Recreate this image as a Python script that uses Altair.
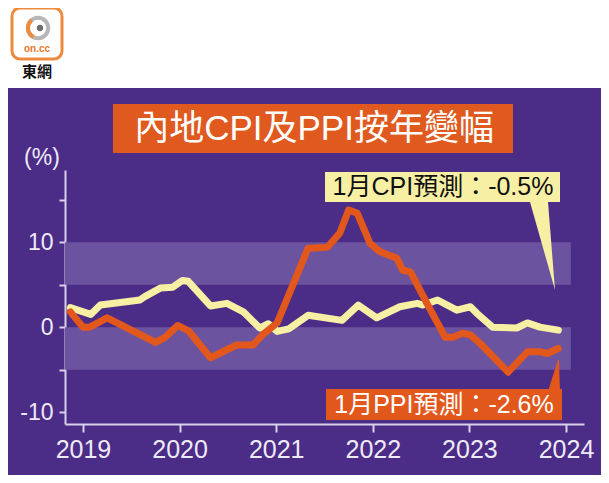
import altair as alt
import pandas as pd

# ---------------- data ----------------
cpi_year = [2018.87, 2019.08, 2019.18, 2019.59, 2019.64, 2019.80, 2019.93, 2020.03, 2020.09,
            2020.32, 2020.49, 2020.66, 2020.83, 2020.92, 2021.01, 2021.13, 2021.33, 2021.68,
            2021.85, 2022.04, 2022.28, 2022.46, 2022.52, 2022.67, 2022.87, 2023.01, 2023.08,
            2023.24, 2023.49, 2023.60, 2023.73, 2023.92]
cpi_value = [2.3, 1.5, 2.6, 3.2, 3.6, 4.6, 4.7, 5.5, 5.4,
             2.5, 2.8, 1.8, -0.1, 0.4, -0.5, -0.2, 1.4, 0.8,
             2.6, 1.1, 2.4, 2.8, 2.6, 3.2, 2.0, 2.4, 1.6,
             0.0, -0.1, 0.5, 0.0, -0.35]

ppi_year = [2018.87, 2019.00, 2019.07, 2019.25, 2019.75, 2019.85, 2019.98, 2020.09, 2020.32,
            2020.59, 2020.76, 2020.86, 2021.01, 2021.33, 2021.53, 2021.66, 2021.75, 2021.84,
            2021.97, 2022.07, 2022.25, 2022.31, 2022.39, 2022.56, 2022.75, 2022.83, 2022.93,
            2023.01, 2023.11, 2023.40, 2023.60, 2023.73, 2023.81, 2023.92]
ppi_value = [1.8, 0.0, 0.0, 1.1, -1.8, -1.2, 0.2, -0.4, -3.6,
             -2.1, -2.1, -0.9, 0.5, 9.3, 9.4, 11.1, 13.8, 13.4,
             9.9, 8.9, 8.1, 6.7, 6.5, 2.8, -1.2, -1.2, -0.7,
             -0.9, -1.9, -5.3, -2.9, -2.9, -3.1, -2.5]

band_low = [5, -5]
band_high = [10, 0]
band_end = [2024.05, 2024.05]
year_ticks = [2019, 2020, 2021, 2022, 2023, 2024]
y_ticks = [-10, -5, 0, 5, 10, 15]

title_text = ["內地CPI及PPI按年變幅"]
cpi_note = ["1月CPI預測：-0.5%"]
ppi_note = ["1月PPI預測：-2.6%"]
unit_text = ["(%)"]
logo_text = ["東網"]
logo_small = ["on.cc"]

# ---------------- styling ----------------
X_DOMAIN = [2018.814, 2024.186]
Y_DOMAIN = [-11.4, 18.5]
W, H = 519, 254
PURPLE = "#4b2d87"
BAND = "#6c539f"
YELLOW = "#f7f0a4"
ORANGE = "#e2571b"
AXIS = "#d9d1ea"
LABEL = "#efeaf7"
FONT = '"Liberation Sans", "Noto Sans CJK TC", sans-serif'

xs = alt.Scale(domain=X_DOMAIN, nice=False, zero=False)
ys = alt.Scale(domain=Y_DOMAIN, nice=False, zero=False)

x_axis = alt.Axis(values=year_ticks, format="d", title=None, grid=False,
                  labelFontSize=25, labelFont="Liberation Sans", labelColor=LABEL,
                  domainColor=AXIS, domainWidth=2, tickColor=AXIS, tickWidth=2,
                  tickSize=8, labelPadding=5, labelFlush=False)
y_axis = alt.Axis(values=y_ticks, title=None, grid=False,
                  labelExpr="(datum.value == 10 || datum.value == 0 || datum.value == -10) ? replace(datum.label, '\u2212', '-') : ''",
                  labelFontSize=23, labelFont="Liberation Sans", labelColor=LABEL,
                  domainColor=AXIS, domainWidth=2, tickColor=AXIS, tickWidth=2,
                  tickSize=6, labelPadding=6)

cpi_df = pd.DataFrame({"year": cpi_year, "value": cpi_value})
ppi_df = pd.DataFrame({"year": ppi_year, "value": ppi_value})
band_df = pd.DataFrame({"lo": band_low, "hi": band_high, "x0": [X_DOMAIN[0]] * 2, "x1": band_end})

bands = alt.Chart(band_df).mark_rect(color=BAND).encode(
    x=alt.X("x0:Q", scale=xs, axis=x_axis),
    x2="x1:Q",
    y=alt.Y("lo:Q", scale=ys, axis=y_axis),
    y2="hi:Q",
)

cpi_line = alt.Chart(cpi_df).mark_line(color=YELLOW, strokeWidth=7, strokeJoin="round",
                                        strokeCap="round").encode(
    x=alt.X("year:Q", scale=xs, axis=x_axis),
    y=alt.Y("value:Q", scale=ys, axis=y_axis),
    order="year:Q",
)
ppi_line = alt.Chart(ppi_df).mark_line(color=ORANGE, strokeWidth=7, strokeJoin="round",
                                        strokeCap="round").encode(
    x=alt.X("year:Q", scale=xs, axis=x_axis),
    y=alt.Y("value:Q", scale=ys, axis=y_axis),
    order="year:Q",
)

one = pd.DataFrame({"k": [0]})


def box(x0, x1, y0, y1, color, **kw):
    return alt.Chart(one).mark_rect(color=color, **kw).encode(
        x=alt.value(x0), x2=alt.value(x1), y=alt.value(y0), y2=alt.value(y1))


def label(texts, x, y, size, color, **kw):
    return alt.Chart(pd.DataFrame({"t": texts})).mark_text(
        fontSize=size, color=color, font=FONT, align="center", baseline="middle", **kw
    ).encode(x=alt.value(x), y=alt.value(y), text="t:N")


# white header strip
header = box(-70, 570, -175, -82, "white")

# logo
logo_box = box(-53, -3, -162, -111, "white", stroke="#ee8a3c", strokeWidth=3, cornerRadius=8)
logo_ring = alt.Chart(one).mark_point(shape="circle", size=420, filled=False,
                                      stroke="#9a9a9a", strokeWidth=4).encode(
    x=alt.value(-27), y=alt.value(-142))
logo_arc = alt.Chart(one).mark_arc(radius=12, radius2=8, theta=3.6, theta2=5.6,
                                   color="#ee8a3c").encode(x=alt.value(-27), y=alt.value(-142))
logo_dot = alt.Chart(one).mark_point(shape="circle", size=40, filled=True,
                                     color="#6f6f6f", opacity=1).encode(
    x=alt.value(-25), y=alt.value(-142))
logo_on = label(logo_small, -28, -121, 10, "#e7782c", fontWeight="bold")
logo_cn = label(logo_text, -28, -98, 15, "#111111", fontWeight="bold")

# title
title_box = box(48, 448, -66, -17, "#e05a1f")
title = label(title_text, 249, -41, 35, "white")

unit = label(unit_text, -23, -12, 23, LABEL)

# CPI callout
cpi_tri_df = pd.DataFrame({"py": [32, 120], "px0": [465, 490], "px1": [483, 490]})
cpi_tri = alt.Chart(cpi_tri_df).mark_area(color=YELLOW, orient="horizontal").encode(
    y=alt.Y("py:Q", scale=None, axis=None),
    x=alt.X("px0:Q", scale=None, axis=None),
    x2="px1:Q",
)
cpi_box = box(260, 495, 2, 32, YELLOW)
cpi_txt = label(cpi_note, 378, 17, 25, "#111111")

# PPI callout
ppi_tri_df = pd.DataFrame({"py": [190, 221], "px0": [493, 483], "px1": [494, 495]})
ppi_tri = alt.Chart(ppi_tri_df).mark_area(color=ORANGE, orient="horizontal").encode(
    y=alt.Y("py:Q", scale=None, axis=None),
    x=alt.X("px0:Q", scale=None, axis=None),
    x2="px1:Q",
)
ppi_box = box(261, 497, 219, 250, ORANGE)
ppi_txt = label(ppi_note, 379, 235, 25, "white")

chart = alt.layer(
    bands, cpi_line, ppi_line,
    header, logo_box, logo_ring, logo_arc, logo_dot, logo_on, logo_cn,
    title_box, title, unit,
    cpi_tri, cpi_box, cpi_txt,
    ppi_tri, ppi_box, ppi_txt,
).properties(
    width=W, height=H,
    padding={"left": 57, "top": 162, "right": 17, "bottom": 51},
    autosize=alt.AutoSizeParams(type="none"),
    background=PURPLE,
).configure_view(stroke=None)

chart.save("out.html", embed_options={"renderer": "svg", "actions": False})
